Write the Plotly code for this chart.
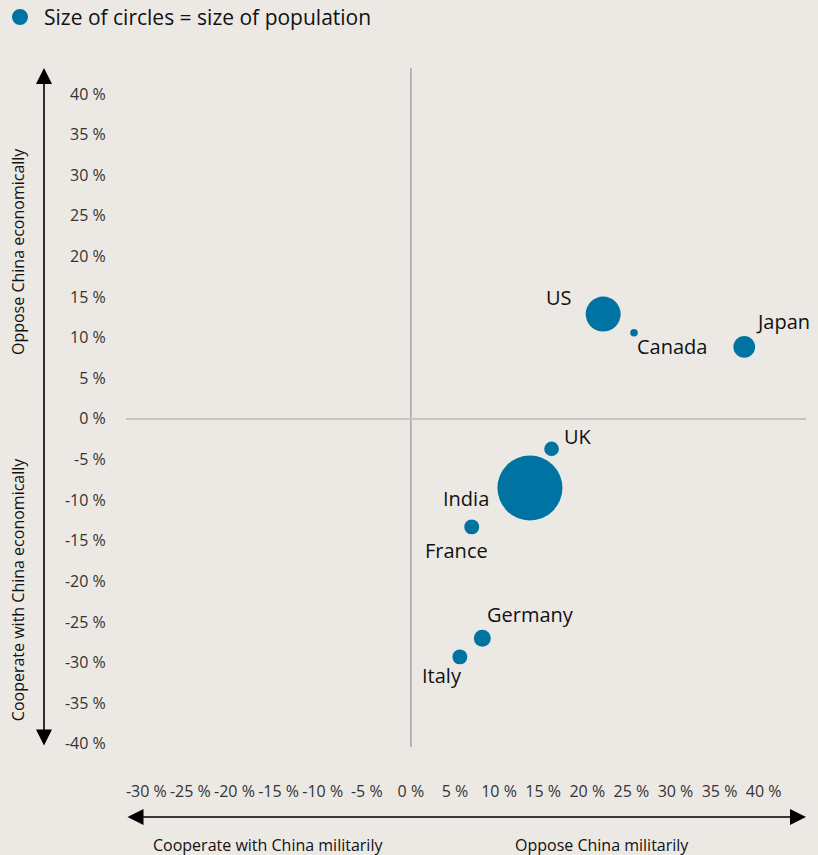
import plotly.graph_objects as go

# ---- data ----
countries = ["US", "Canada", "Japan", "UK", "India", "France", "Germany", "Italy"]
military = [21.8, 25.3, 37.8, 15.95, 13.5, 6.9, 8.1, 5.55]        # x, %
economic = [12.9, 10.6, 8.86, -3.7, -8.5, -13.3, -27.0, -29.3]     # y, %
population = [400, 19, 154, 70, 1380, 73, 94, 73]                  # relative size (read from circles)

x_ticks = list(range(-30, 45, 5))
y_ticks = list(range(-40, 45, 5))
x_ticklabels = [f"{v} %" for v in x_ticks]
y_ticklabels = [f"{v} %" for v in y_ticks]

# label offsets (px) relative to each bubble
label_dx = [-44, 37.5, 39, 26, -64, -15, 48, -17.5]
label_dy = [16, -14.3, 24, 11, -12, -25, 23, -20]

BG = "rgb(236,233,229)"
BLUE = "#0073a2"
FONT = "Open Sans"

max_d = 65
sizeref = 2.0 * max(population) / (max_d ** 2)

fig = go.Figure()
fig.add_trace(go.Scatter(
    x=military, y=economic, mode="markers",
    marker=dict(size=population, sizemode="area", sizeref=sizeref,
                color=BLUE, line=dict(width=0), opacity=1),
    text=countries, hoverinfo="text", showlegend=False,
))

annotations = []
for c, xv, yv, dx, dy in zip(countries, military, economic, label_dx, label_dy):
    annotations.append(dict(x=xv, y=yv, xref="x", yref="y", text=c, showarrow=False,
                            xshift=dx, yshift=dy + 1, xanchor="center", yanchor="middle",
                            font=dict(family=FONT, size=20, color="#111")))

# axis titles
title_font = dict(family=FONT, size=16, color="#111")
annotations += [
    dict(x=0.209, y=-0.1443, xref="paper", yref="paper", text="Cooperate with China militarily",
         showarrow=False, font=title_font, xanchor="center", yanchor="middle"),
    dict(x=0.700, y=-0.1443, xref="paper", yref="paper", text="Oppose China militarily",
         showarrow=False, font=title_font, xanchor="center", yanchor="middle"),
    dict(x=-0.1588, y=0.729, xref="paper", yref="paper", text="Oppose China economically",
         showarrow=False, font=title_font, textangle=-90, xanchor="center", yanchor="middle"),
    dict(x=-0.1588, y=0.231, xref="paper", yref="paper", text="Cooperate with China economically",
         showarrow=False, font=title_font, textangle=-90, xanchor="center", yanchor="middle"),
]

# arrows
annotations += [
    dict(x=1.0, y=-0.103, xref="paper", yref="paper", ax=-680, ay=0, text="",
         showarrow=True, arrowhead=2, startarrowhead=2, arrowside="end+start",
         arrowsize=2, startarrowsize=2, arrowwidth=1.6, arrowcolor="#000"),
    dict(x=-0.1206, y=1.0, xref="paper", yref="paper", ax=0, ay=679, text="",
         showarrow=True, arrowhead=2, startarrowhead=2, arrowside="end+start",
         arrowsize=2, startarrowsize=2, arrowwidth=1.6, arrowcolor="#000"),
]

# legend text
annotations.append(dict(x=-0.124, y=1.0751, xref="paper", yref="paper",
                        text="Size of circles = size of population", showarrow=False,
                        xanchor="left", yanchor="middle",
                        font=dict(family=FONT, size=21, color="#111")))

shapes = [dict(type="circle", xref="paper", yref="paper",
               x0=-0.1559 - 0.01176, x1=-0.1559 + 0.01176,
               y0=1.0751 - 0.01178, y1=1.0751 + 0.01178,
               fillcolor=BLUE, line=dict(width=0))]

fig.update_layout(
    width=818, height=855,
    margin=dict(l=126, r=12, t=68, b=108),
    paper_bgcolor=BG, plot_bgcolor=BG,
    font=dict(family=FONT, size=16, color="#333"),
    annotations=annotations, shapes=shapes,
    showlegend=False,
)
fig.update_xaxes(range=[-32.3, 44.8], tickvals=x_ticks, ticktext=x_ticklabels,
                 showgrid=False, zeroline=False,
                 showline=False, ticks="outside", ticklen=30, tickcolor="rgba(0,0,0,0)",
                 tickfont=dict(family=FONT, size=16, color="#333"))
fig.update_yaxes(range=[-40.4, 43.2], tickvals=y_ticks, ticktext=y_ticklabels,
                 showgrid=False, zeroline=True, zerolinecolor="#c9c4bf", zerolinewidth=1.5,
                 showline=False,
                 ticks="outside", ticklen=16, tickcolor="rgba(0,0,0,0)",
                 tickfont=dict(family=FONT, size=16, color="#333"))
# vertical zero line (darker than the horizontal one)
fig.add_shape(type="line", xref="x", yref="paper", x0=0, x1=0, y0=0, y1=1,
              line=dict(color="#a8a4a0", width=1.5), layer="below")

fig.write_html("out.html", config={"displayModeBar": False},
               post_script="document.body.style.margin='0';document.body.style.overflow='hidden';")
